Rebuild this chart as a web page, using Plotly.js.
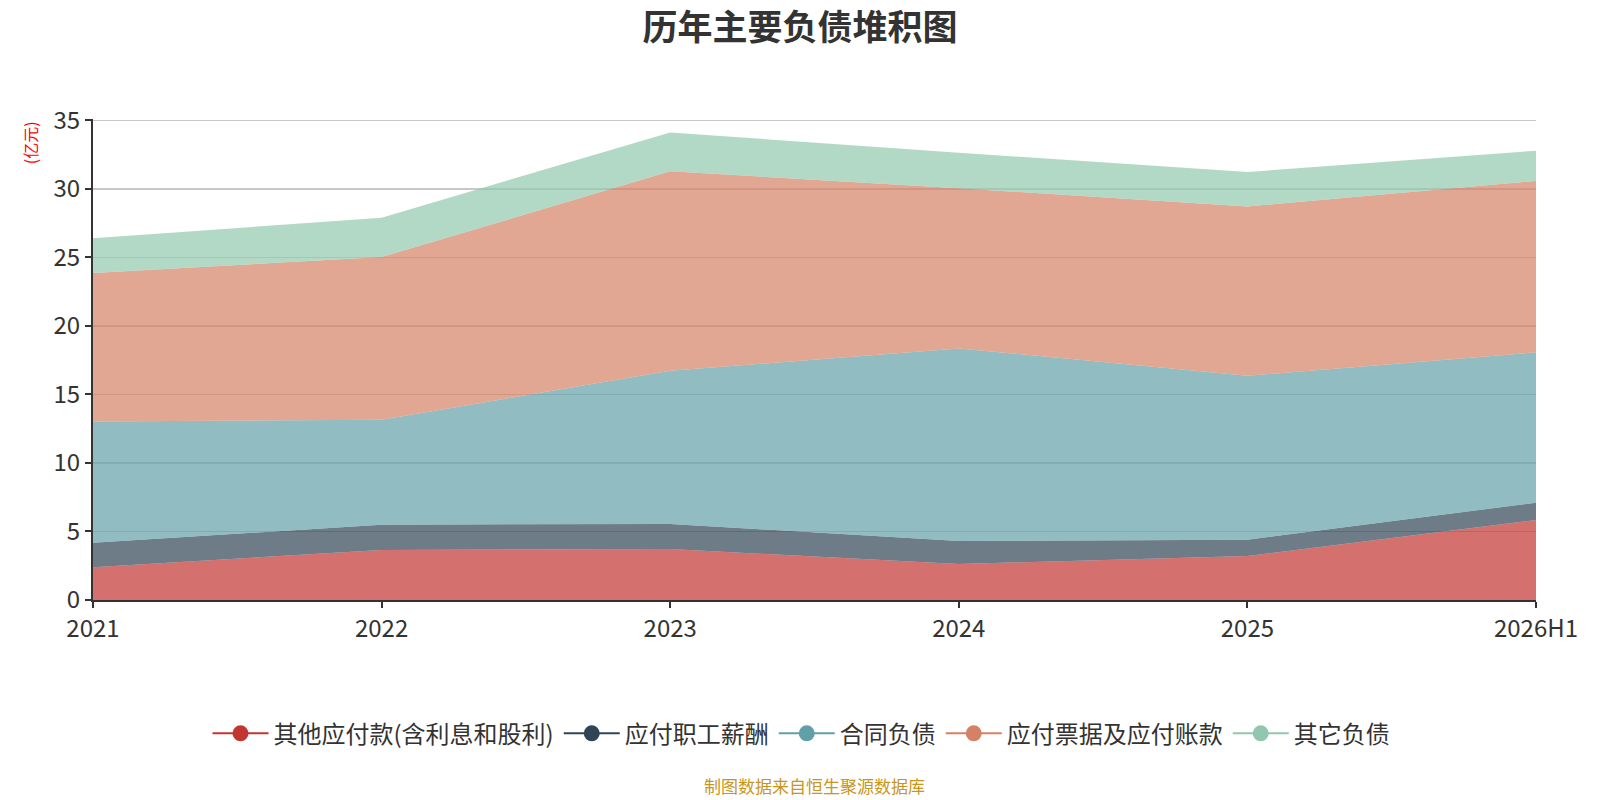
<!DOCTYPE html>
<html>
<head>
<meta charset="utf-8">
<script src="https://cdn.plot.ly/plotly-3.0.1.min.js"></script>
<style>html,body{margin:0;padding:0;background:#fff;}#chart{width:1600px;height:800px;}</style>
</head>
<body>
<div id="chart"></div>
<script>
const categories = ["2021", "2022", "2023", "2024", "2025", "2026H1"];
const seriesNames = ["其他应付款(含利息和股利)", "应付职工薪酬", "合同负债", "应付票据及应付账款", "其它负债"];
const otherPayables = [2.39, 3.65, 3.72, 2.63, 3.21, 5.84];
const staffPay = [1.79, 1.85, 1.83, 1.68, 1.19, 1.26];
const contractLiab = [8.85, 7.65, 11.18, 14.05, 11.96, 10.97];
const notesAccounts = [10.83, 11.88, 14.55, 11.69, 12.36, 12.51];
const otherLiab = [2.53, 2.87, 2.84, 2.59, 2.51, 2.21];
const yTicks = [0, 5, 10, 15, 20, 25, 30, 35];

const colors = ["#c23531", "#2f4554", "#61a0a8", "#d48265", "#91c7ae"];
const fills = ["rgba(194,53,49,0.7)", "rgba(47,69,84,0.7)", "rgba(97,160,168,0.7)", "rgba(212,130,101,0.7)", "rgba(145,199,174,0.7)"];
const values = [otherPayables, staffPay, contractLiab, notesAccounts, otherLiab];

const FONT = '"Noto Sans CJK SC", "Noto Sans", sans-serif';
const traces = [];
values.forEach((v, i) => {
  traces.push({
    type: 'scatter', mode: 'lines', x: categories, y: v, name: seriesNames[i],
    stackgroup: 'one', fillcolor: fills[i],
    line: {width: 0, color: colors[i]}, showlegend: false, hoverinfo: 'x+y+name'
  });
});
values.forEach((v, i) => {
  traces.push({
    type: 'scatter', mode: 'lines+markers', x: [null], y: [null], name: seriesNames[i],
    line: {width: 2, color: colors[i]}, marker: {size: 16, color: colors[i], symbol: 'circle'},
    showlegend: true, hoverinfo: 'skip'
  });
});

const layout = {
  width: 1600, height: 800,
  paper_bgcolor: '#fff', plot_bgcolor: '#fff',
  margin: {l: 93, r: 64, t: 119, b: 200},
  font: {family: FONT, color: '#333', size: 20},
  title: {text: '<b>历年主要负债堆积图</b>', x: 0.5, xanchor: 'center', y: 0.965, yanchor: 'middle', yref: 'container',
          font: {family: FONT, size: 35, color: '#333'}},
  xaxis: {
    type: 'category', range: [0, categories.length - 1], showgrid: false,
    showline: true, linecolor: '#333', linewidth: 2, ticks: 'outside', ticklen: 6, tickwidth: 2, tickcolor: '#333',
    tickfont: {size: 24, color: '#333'}, zeroline: false, fixedrange: true
  },
  yaxis: {
    range: [0, 35.1], tickvals: yTicks, ticktext: yTicks.map(String), showgrid: true, gridcolor: '#c8c8c8', gridwidth: 1.5,
    showline: true, linecolor: '#333', linewidth: 2, ticks: 'outside', ticklen: 6, tickwidth: 2, tickcolor: '#333',
    tickfont: {size: 24, color: '#333'}, zeroline: false, fixedrange: true
  },
  legend: {orientation: 'h', x: 0.491, xanchor: 'center', y: -0.278, yanchor: 'middle', traceorder: 'normal',
           font: {size: 24, color: '#333', family: FONT}, itemwidth: 56, tracegroupgap: 0},
  showlegend: true,
  annotations: [
    {text: '(亿元)', xref: 'paper', yref: 'paper', x: -0.0435, y: 0.95, xanchor: 'center', yanchor: 'middle',
     textangle: -90, showarrow: false, font: {size: 16, color: '#ff0000', family: FONT}},
    {text: '制图数据来自恒生聚源数据库', xref: 'paper', yref: 'paper', x: 0.5, y: -0.385, xanchor: 'center', yanchor: 'middle',
     showarrow: false, font: {size: 17, color: '#c8961e', family: FONT}}
  ]
};

Plotly.newPlot('chart', traces, layout, {displayModeBar: false, staticPlot: true});
</script>
</body>
</html>
